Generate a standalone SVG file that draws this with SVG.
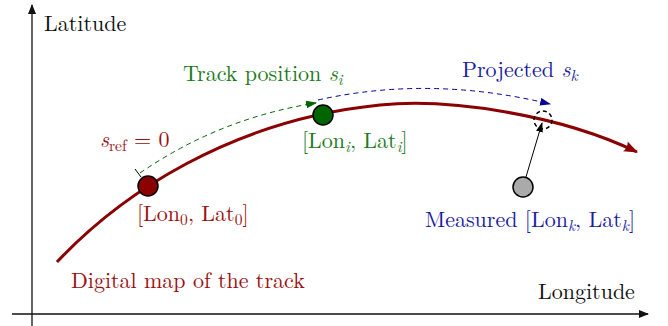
<svg xmlns="http://www.w3.org/2000/svg" width="668" height="326" viewBox="0 0 668 326">
<style>
.red{fill:#9a1010}.green{fill:#1d7a1d}.blue{fill:#1c1ca0}.blk{fill:#111}
.it{font-style:italic}
.sub{font-size:15.5px}
.axis{stroke:#111;stroke-width:1.3;fill:none}
.track{stroke:#8b0000;stroke-width:3;fill:none}
.node{stroke:#000;stroke-width:1.5}
</style>
<defs>
<marker id="ax" viewBox="0 0 10 8" refX="9" refY="4" markerWidth="10" markerHeight="8" markerUnits="userSpaceOnUse" orient="auto"><path d="M0,0 L10,4 L0,8 Z" fill="#111"/></marker>
<marker id="trk" viewBox="0 0 14 11" refX="13" refY="5.5" markerWidth="15" markerHeight="11" markerUnits="userSpaceOnUse" orient="auto"><path d="M0,0 L14,5.5 L0,11 Q3,5.5 0,0 Z" fill="#8b0000"/></marker>
<marker id="grn" viewBox="0 0 10 7" refX="9" refY="3.5" markerWidth="11" markerHeight="8" markerUnits="userSpaceOnUse" orient="auto"><path d="M0,0 L10,3.5 L0,7 Z" fill="#006400"/></marker>
<marker id="blu" viewBox="0 0 10 7" refX="9" refY="3.5" markerWidth="11" markerHeight="8" markerUnits="userSpaceOnUse" orient="auto"><path d="M0,0 L10,3.5 L0,7 Z" fill="#000099"/></marker>
<marker id="blk" viewBox="0 0 10 7" refX="9" refY="3.5" markerWidth="10" markerHeight="7" markerUnits="userSpaceOnUse" orient="auto"><path d="M0,0 L10,3.5 L0,7 Z" fill="#000"/></marker>
</defs>
<g id="axes">
<line class="axis" x1="32" y1="326" x2="32" y2="5" marker-end="url(#ax)"/>
<line class="axis" x1="12" y1="314" x2="648" y2="314" marker-end="url(#ax)"/>
<text class="blk" x="44" y="31" font-family="Latin Modern Roman, Liberation Serif, serif" font-size="22">Latitude</text>
<text class="blk" x="538" y="299" font-family="Latin Modern Roman, Liberation Serif, serif" font-size="22">Longitude</text>
</g>
<g id="track">
<path class="track" d="M57,262 C120,195 230,120 380,105 C450,98 560,115 637,152" marker-end="url(#trk)"/>
<text class="red" x="71" y="288" font-family="Latin Modern Roman, Liberation Serif, serif" font-size="22">Digital map of the track</text>
</g>
<g id="connectors">
<path d="M140,173 Q220,118 316,103" fill="none" stroke="#006400" stroke-width="1" stroke-dasharray="5,4" marker-end="url(#grn)"/>
<line x1="135" y1="169" x2="141" y2="177" stroke="#000" stroke-width="1"/>
<path d="M318,100 Q430,75 550,104" fill="none" stroke="#000099" stroke-width="1" stroke-dasharray="5,4" marker-end="url(#blu)"/>
<line x1="523" y1="187" x2="542" y2="123" stroke="#000" stroke-width="1" marker-end="url(#blk)"/>
</g>
<g id="node-ref">
<circle class="node" cx="148" cy="186" r="10" fill="#8b0000"/>
<text class="red" x="137" y="221" font-family="Latin Modern Roman, Liberation Serif, serif" font-size="22">[Lon<tspan class="sub" dy="4">0</tspan><tspan dy="-4">, Lat</tspan><tspan class="sub" dy="4">0</tspan><tspan dy="-4">]</tspan></text>
<text class="red" x="100" y="147" font-family="Latin Modern Roman, Liberation Serif, serif" font-size="22"><tspan class="it">s</tspan><tspan class="sub" dy="4">ref</tspan><tspan dy="-4"> = 0</tspan></text>
</g>
<g id="node-track">
<circle class="node" cx="323" cy="115" r="10" fill="#006400"/>
<text class="green" x="302" y="148" font-family="Latin Modern Roman, Liberation Serif, serif" font-size="22">[Lon<tspan class="sub it" dy="4">i</tspan><tspan dy="-4">, Lat</tspan><tspan class="sub it" dy="4">i</tspan><tspan dy="-4">]</tspan></text>
<text class="green" x="183" y="81" font-family="Latin Modern Roman, Liberation Serif, serif" font-size="22">Track position <tspan class="it">s</tspan><tspan class="sub it" dy="4">i</tspan></text>
</g>
<g id="node-projected">
<circle cx="543" cy="120" r="9" fill="none" stroke="#000" stroke-width="1.5" stroke-dasharray="4,3"/>
<text class="blue" x="462" y="77" font-family="Latin Modern Roman, Liberation Serif, serif" font-size="22">Projected <tspan class="it">s</tspan><tspan class="sub it" dy="4">k</tspan></text>
</g>
<g id="node-measured">
<circle class="node" cx="523" cy="187" r="10" fill="#aaaaaa"/>
<text class="blue" x="425" y="227" font-family="Latin Modern Roman, Liberation Serif, serif" font-size="22">Measured [Lon<tspan class="sub it" dy="4">k</tspan><tspan dy="-4">, Lat</tspan><tspan class="sub it" dy="4">k</tspan><tspan dy="-4">]</tspan></text>
</g>
</svg>
